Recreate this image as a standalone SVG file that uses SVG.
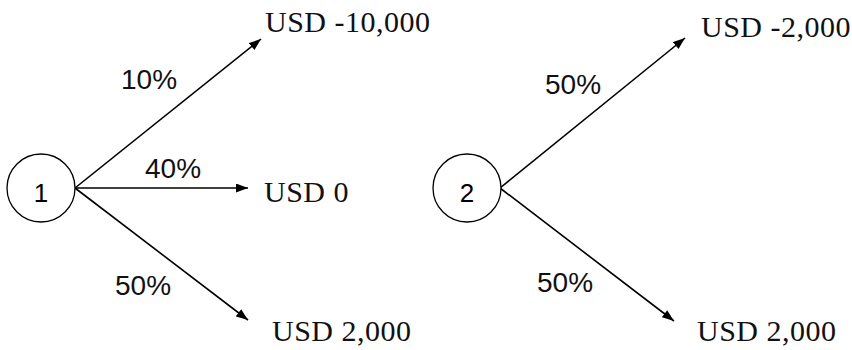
<svg xmlns="http://www.w3.org/2000/svg" width="852" height="350" viewBox="0 0 852 350">
<defs>
<style>
.node circle{fill:#fff;stroke:#000;stroke-width:1.3}
.num{font-family:"Liberation Sans",Arial,sans-serif;font-size:26px;fill:#000;text-anchor:middle}
.pct{font-family:"Liberation Sans",Arial,sans-serif;font-size:28px;fill:#111}
.usd{font-family:"Liberation Serif","Times New Roman",serif;font-size:30px;fill:#111;letter-spacing:0.5px}
.edge{stroke:#000;stroke-width:1.6;fill:none;marker-end:url(#arr)}
</style>
<marker id="arr" markerUnits="userSpaceOnUse" markerWidth="13" markerHeight="10" refX="12" refY="4.5" orient="auto">
<path d="M0,0 L12,4.5 L0,9 z" fill="#000"/>
</marker>
</defs>
<rect width="852" height="350" fill="#fff"/>
<g id="connectors">
<line class="edge" x1="75" y1="188" x2="261" y2="39"/>
<line class="edge" x1="75" y1="188" x2="248" y2="188"/>
<line class="edge" x1="75" y1="188" x2="248" y2="320"/>
<line class="edge" x1="500" y1="188" x2="685" y2="38"/>
<line class="edge" x1="500" y1="188" x2="674" y2="321"/>
</g>
<g id="node1" class="node">
<circle cx="41" cy="188" r="34"/>
<text class="num" x="41" y="202">1</text>
</g>
<g id="node2" class="node">
<circle cx="467" cy="188" r="34"/>
<text class="num" x="467" y="202">2</text>
</g>
<g id="labels">
<text class="pct" x="121" y="89">10%</text>
<text class="pct" x="145" y="178">40%</text>
<text class="pct" x="115" y="295">50%</text>
<text class="pct" x="545" y="94">50%</text>
<text class="pct" x="537" y="292">50%</text>
<text class="usd" x="265" y="32">USD -10,000</text>
<text class="usd" x="264" y="202">USD 0</text>
<text class="usd" x="272" y="341">USD 2,000</text>
<text class="usd" x="701" y="37">USD -2,000</text>
<text class="usd" x="697" y="341">USD 2,000</text>
</g>
</svg>
